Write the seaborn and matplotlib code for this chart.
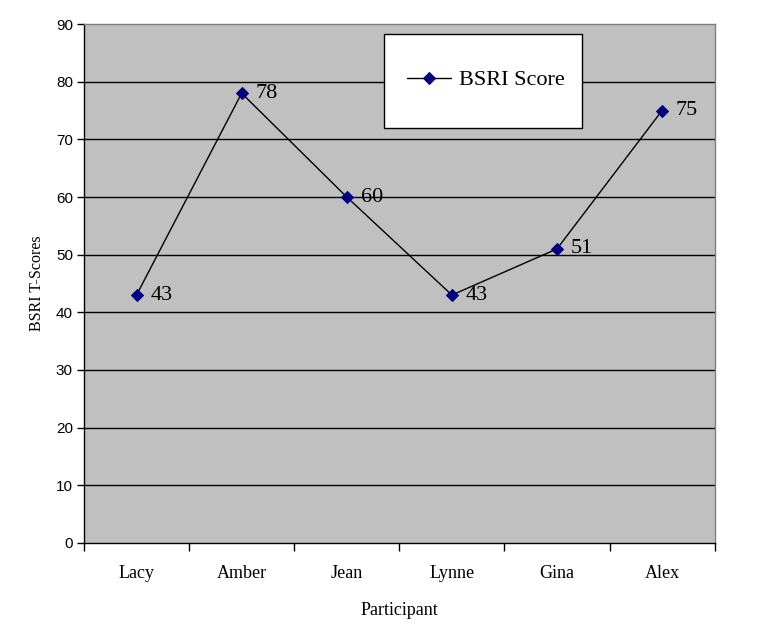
import numpy as np
import pandas as pd
import seaborn as sns
import matplotlib.pyplot as plt
from matplotlib.patches import Rectangle
from matplotlib.ticker import FixedLocator

# BSRI scores per participant
participants = ['Lacy', 'Amber', 'Jean', 'Lynne', 'Gina', 'Alex']
scores = [43, 78, 60, 43, 51, 75]
y_ticks = list(range(0, 100, 10))

df = pd.DataFrame({'Participant': participants, 'BSRI Score': scores})
df['pos'] = np.arange(len(participants))

sns.set_theme(style='white', rc={'axes.facecolor': '#C0C0C0', 'text.color': 'black',
                                 'axes.labelcolor': 'black', 'xtick.color': 'black',
                                 'ytick.color': 'black'})
plt.rcParams['font.family'] = ['Liberation Serif', 'DejaVu Serif']

fig = plt.figure(figsize=(7.58, 6.27), dpi=100)
ax = fig.add_axes([0.1108, 0.134, 0.832, 0.8277])

# horizontal grid lines
for y in y_ticks[1:-1]:
    ax.axhline(y, color='black', linewidth=1.0, zorder=1)

sns.lineplot(data=df, x='pos', y='BSRI Score', ax=ax, color='black', linewidth=1.0,
             marker='D', markersize=6, markerfacecolor='#000080', markeredgecolor='#000080',
             label='BSRI Score', zorder=3)

# value labels
for x, y in zip(df['pos'], df['BSRI Score']):
    ax.annotate(str(y), (x, y), xytext=(10, 0), textcoords='offset points',
                ha='left', va='center', fontsize=16, color='black')

ax.set_xlim(-0.5, len(participants) - 0.5)
ax.set_ylim(0, 90)
ax.set_yticks(y_ticks)
ax.set_yticklabels([str(v) for v in y_ticks], family='Liberation Sans', fontsize=11)
ax.set_xticks(df['pos'])
ax.set_xticklabels(participants, fontsize=13)
ax.xaxis.set_minor_locator(FixedLocator(np.arange(-0.5, len(participants), 1.0)))
ax.tick_params(axis='x', which='major', length=0, pad=16)
ax.tick_params(axis='x', which='minor', length=6, width=1, color='black', direction='out', bottom=True)
ax.tick_params(axis='y', length=5, width=1, color='black', direction='out', left=True, pad=3)

ax.set_xlabel('Participant', fontsize=13, labelpad=14)
ax.set_ylabel('BSRI T-Scores', fontsize=11.5, labelpad=8)

for side in ['top', 'right']:
    ax.spines[side].set_visible(True)
    ax.spines[side].set_color('#808080')
    ax.spines[side].set_linewidth(1.0)
for side in ['left', 'bottom']:
    ax.spines[side].set_color('black')
    ax.spines[side].set_linewidth(1.0)

# legend box
ax.add_patch(Rectangle((0.475, 0.80), 0.315, 0.181, transform=ax.transAxes,
                       facecolor='white', edgecolor='black', linewidth=1.0, zorder=4))
leg = ax.legend(loc='center left', bbox_to_anchor=(0.512, 0.892), fontsize=16,
                frameon=False, borderpad=0, borderaxespad=0,
                handlelength=2.0, handletextpad=0.35)
leg.set_zorder(5)

plt.savefig('out.png', dpi=100)
